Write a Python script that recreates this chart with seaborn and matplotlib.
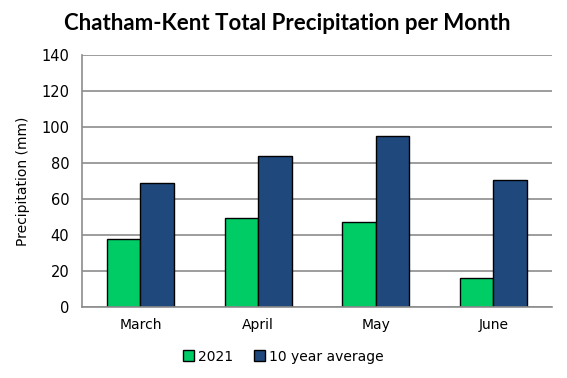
import matplotlib
matplotlib.use("Agg")
import matplotlib.pyplot as plt
import seaborn as sns
import pandas as pd
import numpy as np
from matplotlib.patches import Patch

# data
months = ["March", "April", "May", "June"]
precip_2021 = [37.6, 49.3, 47.0, 15.9]
precip_avg = [68.7, 83.7, 95.0, 70.4]
series = ["2021", "10 year average"]

df = pd.DataFrame({
    "month": months * 2,
    "series": [series[0]] * 4 + [series[1]] * 4,
    "value": precip_2021 + precip_avg,
})

pal = {"2021": "#00CC66", "10 year average": "#1F497D"}

sns.set_style("white")
plt.rcParams["font.family"] = ["DejaVu Sans"]
plt.rcParams["text.color"] = "black"
plt.rcParams["axes.labelcolor"] = "black"
plt.rcParams["xtick.color"] = "black"
plt.rcParams["ytick.color"] = "black"

fig = plt.figure(figsize=(5.67, 3.78), dpi=100)
ax = fig.add_axes([0.144, 0.188, 0.83, 0.667])

sns.barplot(
    data=df, x="month", y="value", hue="series", palette=pal,
    width=0.57, edgecolor="black", linewidth=1.0, ax=ax, legend=False,
    saturation=1,
)

ax.set_ylim(0, 140)
ax.set_yticks(np.arange(0, 141, 20))
ax.set_xlim(-0.5, 3.5)
ax.yaxis.grid(True, color="#8c8c8c", linewidth=1.2)
ax.set_axisbelow(True)

for s in ["top", "right"]:
    ax.spines[s].set_visible(False)
for s in ["left", "bottom"]:
    ax.spines[s].set_color("#8c8c8c")
    ax.spines[s].set_linewidth(1.2)

ax.tick_params(axis="y", direction="out", length=5, color="#8c8c8c", labelsize=10.5, pad=4)
ax.tick_params(axis="x", which="major", length=0, labelsize=10, pad=8)
ax.set_xticks(np.arange(-0.5, 3.6, 1), minor=True)
ax.tick_params(axis="x", which="minor", direction="out", length=5, color="#8c8c8c")

ax.set_xlabel("")
ax.set_ylabel("Precipitation (mm)", fontsize=10, labelpad=8)

fig.suptitle("Chatham-Kent Total Precipitation per Month", x=0.507, y=0.965,
             fontsize=16, fontweight="bold", family="Lato")

handles = [Patch(facecolor=pal[s], edgecolor="black", label=s) for s in series]
fig.legend(handles=handles, loc="lower center", bbox_to_anchor=(0.5, 0.005), ncol=2,
           frameon=False, fontsize=10, handlelength=0.8, handleheight=0.8,
           handletextpad=0.3, columnspacing=1.5)

plt.savefig("out.png", dpi=100)
